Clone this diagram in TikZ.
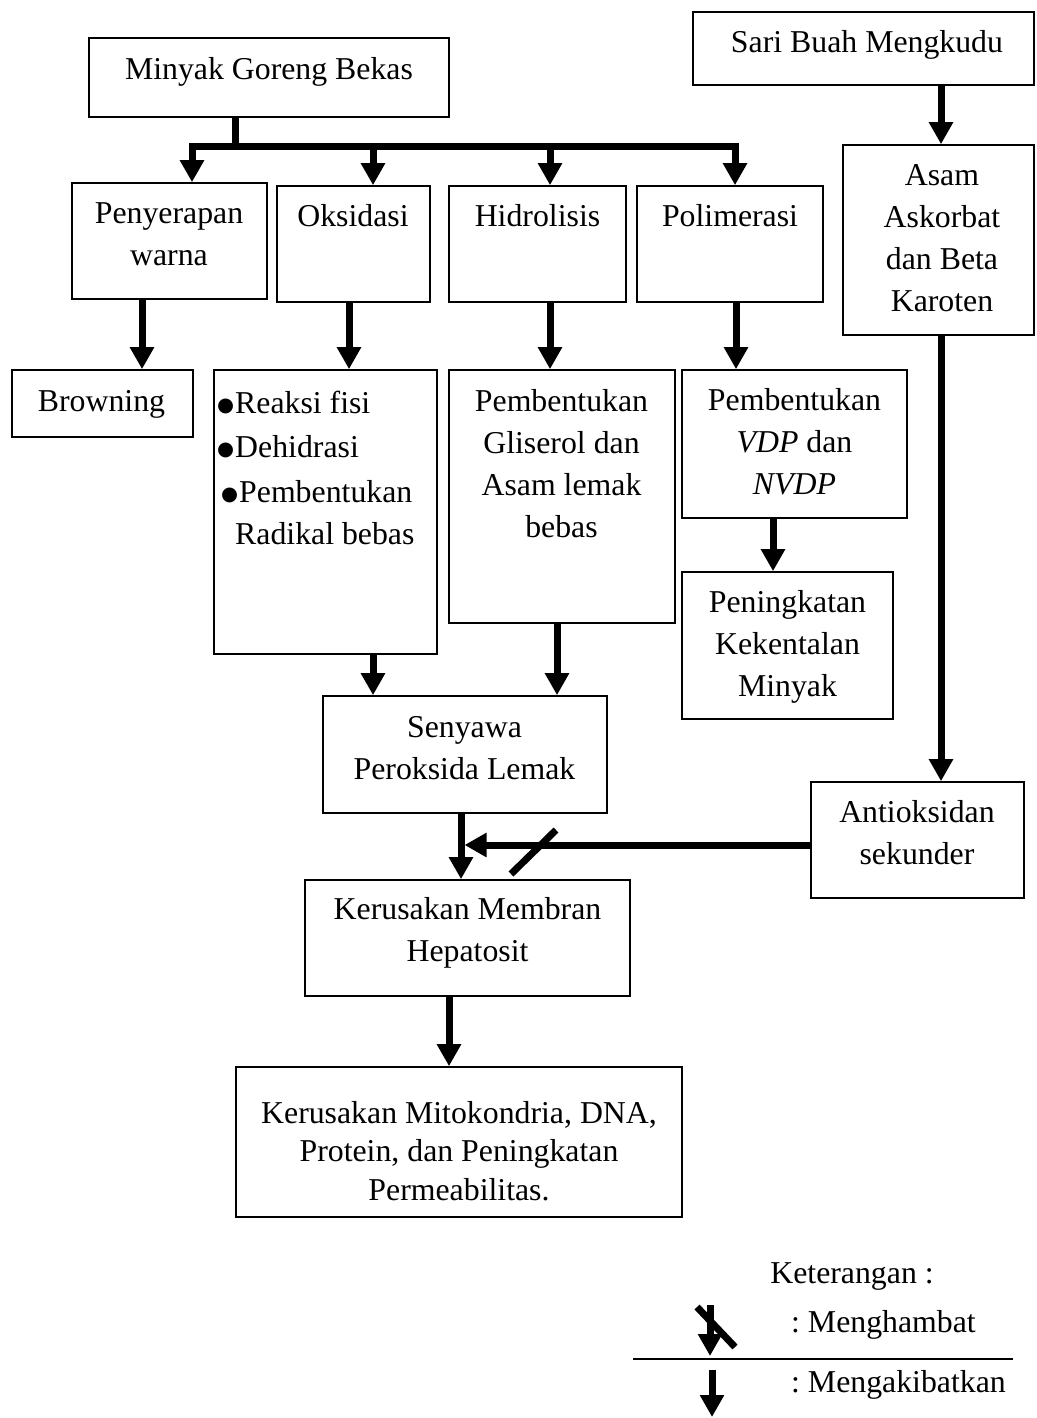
\documentclass[tikz,border=0pt]{standalone}
\usepackage{fontspec}
\setmainfont{Liberation Serif}
\newfontfamily\dejavu{DejaVu Sans}
\usetikzlibrary{arrows.meta,fit}
\frenchspacing
\newcommand\bul{\makebox[18pt][l]{\raisebox{2pt}{\dejavu\fontsize{19.5}{19.5}\selectfont ●}}}
\tikzset{
  box/.style={draw, line width=1.6pt, inner sep=0pt},
  txt/.style={font=\fontsize{31.8}{42}\selectfont, align=center, inner sep=0pt, anchor=north},
  arr/.style={line width=7pt, line join=miter, -{Triangle[width=23pt,length=22pt]}},
  thickline/.style={line width=7pt, line join=miter},
  thinline/.style={line width=1.5pt},
}
\begin{document}
\begin{tikzpicture}[x=1pt,y=-1pt]
\useasboundingbox (0,0) rectangle (1036,1418);
% boxes
\node[box, fit={(89,38) (449,117)}] (mgb) {};
\node[box, fit={(693,12) (1034,85)}] (sbm) {};
\node[box, fit={(72,183) (267,299)}] (pw) {};
\node[box, fit={(277,186) (430,302)}] (oks) {};
\node[box, fit={(449,186) (626,302)}] (hid) {};
\node[box, fit={(637,186) (823,302)}] (pol) {};
\node[box, fit={(843,145) (1034,335)}] (aa) {};
\node[box, fit={(12,370) (193,437)}] (brw) {};
\node[box, fit={(214,370) (437,654)}] (okl) {};
\node[box, fit={(449,370) (675,623)}] (hil) {};
\node[box, fit={(682,370) (907,518)}] (vdp) {};
\node[box, fit={(682,572) (893,719)}] (pk) {};
\node[box, fit={(323,696) (607,813)}] (spl) {};
\node[box, fit={(811,782) (1024,898)}] (as) {};
\node[box, fit={(305,880) (630,996)}] (kmh) {};
\node[box, fit={(236,1067) (682,1217)}] (kmd) {};
% texts
\node[txt] (tmgb) at (269,49.6) {\strut Minyak Goreng Bekas};
\node[txt] (tsbm) at (867,22.6) {\strut Sari Buah Mengkudu};
\node[txt] (tpw) at (169,193.6) {\strut Penyerapan\\warna};
\node[txt] (toks) at (353,196.6) {\strut Oksidasi};
\node[txt] (thid) at (537.5,196.6) {\strut Hidrolisis};
\node[txt] (tpol) at (730,196.6) {\strut Polimerasi};
\node[txt] (taa) at (942,155.6) {\strut Asam\\Askorbat\\dan Beta\\Karoten};
\node[txt] (tbrw) at (101.5,381.6) {\strut Browning};
\node[txt, align=left, anchor=north west] (tokl) at (217,383.6)
  {\strut\bul Reaksi fisi\\[2pt]\bul Dehidrasi\\[3pt]\hspace*{4pt}\bul Pembentukan\\\hspace*{18pt}Radikal bebas};
\node[txt] (thil) at (561.5,381.6) {\strut Pembentukan\\Gliserol dan\\Asam lemak\\bebas};
\node[txt] (tvdp) at (794.5,380.6) {\strut Pembentukan\\\textit{VDP} dan\\\textit{NVDP}};
\node[txt] (tpk) at (787.5,582.6) {\strut Peningkatan\\Kekentalan\\Minyak};
\node[txt] (tspl) at (464.5,707.6) {\strut Senyawa\\Peroksida Lemak};
\node[txt] (tas) at (917,792.6) {\strut Antioksidan\\sekunder};
\node[txt] (tkmh) at (467.5,889.6) {\strut Kerusakan Membran\\Hepatosit};
\node[txt, font=\fontsize{31.8}{38.5}\selectfont] (tkmd) at (459,1096) {\strut Kerusakan Mitokondria, DNA,\\Protein, dan Peningkatan\\Permeabilitas.};
% connector x positions
\coordinate (j) at (235,146);
\coordinate (xa) at (192,0);
\coordinate (xb) at (373,0);
\coordinate (xc) at (550,0);
\coordinate (xd) at (735,0);
\coordinate (xe) at (142,0);
\coordinate (xf) at (349,0);
\coordinate (xg) at (736,0);
\coordinate (xh) at (773,0);
\coordinate (xi) at (941,0);
\coordinate (xj) at (557,0);
\coordinate (xk) at (461,0);
\coordinate (xl) at (449,0);
\coordinate (xm) at (373,0);
% connectors
\draw[thickline] (mgb.south -| j) -- (j);
\draw[arr] (j) -| (pw.north -| xa);
\draw[arr] (j) -| (oks.north -| xb);
\draw[arr] (j) -| (hid.north -| xc);
\draw[arr] (j) -| (pol.north -| xd);
\draw[arr] (sbm.south -| xi) -- (aa.north -| xi);
\draw[arr] (pw.south -| xe) -- (brw.north -| xe);
\draw[arr] (oks.south -| xf) -- (okl.north -| xf);
\draw[arr] (hid.south -| xc) -- (hil.north -| xc);
\draw[arr] (pol.south -| xg) -- (vdp.north -| xg);
\draw[arr] (vdp.south -| xh) -- (pk.north -| xh);
\draw[arr] (aa.south -| xi) -- (as.north -| xi);
\draw[arr] (okl.south -| xm) -- (spl.north -| xm);
\draw[arr] (hil.south -| xj) -- (spl.north -| xj);
\draw[arr] (spl.south -| xk) -- (kmh.north -| xk);
\draw[arr] (kmh.south -| xl) -- (kmd.north -| xl);
% inhibition
\coordinate (hit) at (464.5,845);
\draw[arr] (as.west |- hit) -- (hit);
\coordinate (s1) at (511,874);
\coordinate (s2) at (556,830);
\draw[thickline] (s1) -- (s2);
% legend
\node[txt, anchor=base] (ket) at (852,1283) {Keterangan :};
\node[txt, anchor=base west] (lh) at (791,1332) {: Menghambat};
\node[txt, anchor=base west] (lk) at (791,1392) {: Mengakibatkan};
\coordinate (l1a) at (710,1305);
\coordinate (l1b) at (710,1356);
\draw[arr] (l1a) -- (l1b);
\coordinate (l2a) at (697,1307);
\coordinate (l2b) at (735,1347);
\draw[thickline] (l2a) -- (l2b);
\coordinate (l3a) at (633,1359);
\coordinate (l3b) at (1013,1359);
\draw[thinline] (l3a) -- (l3b);
\coordinate (l4a) at (712,1370);
\coordinate (l4b) at (712,1417);
\draw[arr] (l4a) -- (l4b);
\end{tikzpicture}
\end{document}
